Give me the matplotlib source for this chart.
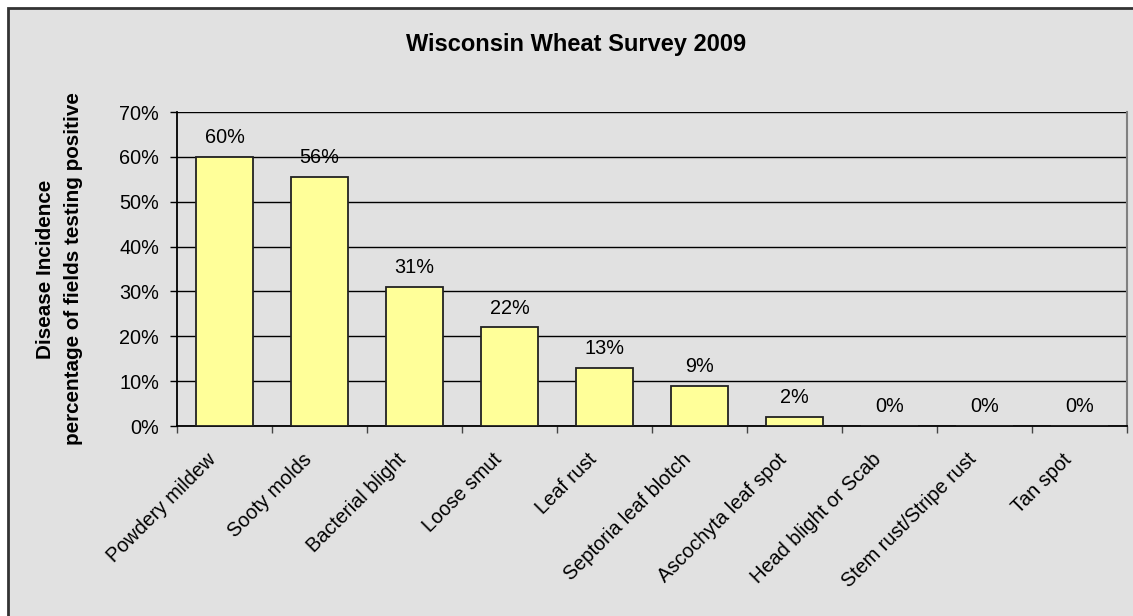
import matplotlib.pyplot as plt
from matplotlib.patches import Rectangle
import numpy as np

diseases = ["Powdery mildew", "Sooty molds", "Bacterial blight", "Loose smut",
            "Leaf rust", "Septoria leaf blotch", "Ascochyta leaf spot",
            "Head blight or Scab", "Stem rust/Stripe rust", "Tan spot"]
incidence = [60, 55.5, 31, 22, 13, 9, 2, 0, 0, 0]
labels = ["60%", "56%", "31%", "22%", "13%", "9%", "2%", "0%", "0%", "0%"]
yticks = [0, 10, 20, 30, 40, 50, 60, 70]

plt.rcParams['font.family'] = ['Liberation Sans', 'DejaVu Sans']
bg = '#e1e1e1'
fs = 14.3

fig = plt.figure(figsize=(11.33, 6.16), dpi=100, facecolor='white')
# chart area frame (cropped at right/bottom)
fig.patches.append(Rectangle((8 / 1133, -0.05), 1.1, 1.05 - 8 / 616,
                             transform=fig.transFigure, facecolor=bg,
                             edgecolor='#333333', linewidth=2, zorder=-10))

ax = fig.add_axes([177 / 1133, 1 - 426 / 616, 950 / 1133, 314 / 616])
ax.set_facecolor(bg)

x = np.arange(len(diseases))
bars = ax.bar(x, incidence, width=0.59, color='#ffff99', edgecolor='#222222',
              linewidth=1.3, zorder=3)
for xi, v, lab in zip(x, incidence, labels):
    ax.annotate(lab, (xi, v), xytext=(0, 7), textcoords='offset points',
                ha='center', va='bottom', fontsize=fs)

ax.set_xlim(-0.5, len(diseases) - 0.5)
ax.set_ylim(0, 70)
ax.set_yticks(yticks)
ax.set_yticklabels([f"{t}%" for t in yticks], fontsize=fs)
ax.yaxis.grid(True, color='black', linewidth=1)
ax.set_axisbelow(True)

# ticks between categories, names rotated under each bar
ax.set_xticks(np.arange(len(diseases) + 1) - 0.5)
ax.set_xticklabels([])
for xi, name in zip(x, diseases):
    ax.annotate(name, (xi, 0), xycoords=('data', 'axes fraction'),
                xytext=(-8, -22), textcoords='offset points', rotation=45,
                ha='right', va='center', rotation_mode='anchor', fontsize=fs)
ax.tick_params(axis='x', length=5, width=1, color='#444444')
ax.tick_params(axis='y', length=5, width=1, pad=8)

for s in ['left', 'bottom']:
    ax.spines[s].set_color('black')
    ax.spines[s].set_linewidth(1.3)
ax.spines['top'].set_visible(False)
ax.spines['right'].set_color('#808080')
ax.spines['right'].set_linewidth(1.5)

ax.set_ylabel("Disease Incidence\npercentage of fields testing positive",
              fontsize=14.9, fontweight='bold', labelpad=26, linespacing=1.6)
fig.text(576 / 1133, 1 - 45 / 616, "Wisconsin Wheat Survey 2009",
         ha='center', va='center', fontsize=17, fontweight='bold')

fig.savefig("out.png", dpi=100, facecolor='white')
